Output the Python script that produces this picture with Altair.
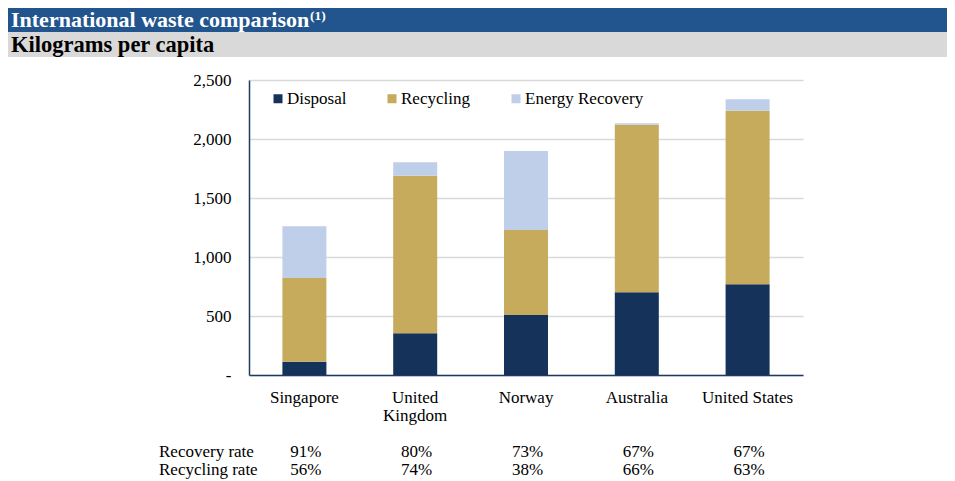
import altair as alt
import pandas as pd

countries = ["Singapore", "United Kingdom", "Norway", "Australia", "United States"]
disposal = [113, 353, 508, 701, 769]
recycling = [709, 1336, 721, 1420, 1471]
energy = [438, 113, 669, 12, 96]
series = ["Disposal", "Recycling", "Energy Recovery"]
colors = ["#14325A", "#C5AB5B", "#BFCFEA"]
recovery_rate = ["91%", "80%", "73%", "67%", "67%"]
recycling_rate = ["56%", "74%", "38%", "66%", "63%"]
row_labels = ["Recovery rate", "Recycling rate"]
y_ticks = [0, 500, 1000, 1500, 2000, 2500]
title = "International waste comparison"
title_note = "(1)"
subtitle = "Kilograms per capita"

FONT = "Liberation Serif"
NAVY = "#1F3864"
FS = 17

rows = []
for i, c in enumerate(countries):
    for j, (s, vals) in enumerate(zip(series, [disposal, recycling, energy])):
        rows.append({"country": c, "series": s, "value": vals[i], "order": j})
df = pd.DataFrame(rows)

tbl = pd.DataFrame({"country": countries, "recovery": recovery_rate, "recycling": recycling_rate})
one = pd.DataFrame({"k": [0]})

xenc = alt.X("country:N", sort=countries, title=None,
             scale=alt.Scale(paddingInner=0.6, paddingOuter=0.3),
             axis=alt.Axis(labelAngle=0, ticks=False, labelPadding=27, labelBaseline="alphabetic",
                           labelFont=FONT, labelFontSize=FS, labelColor="black",
                           domainColor=NAVY, domainWidth=1.5, labelLineHeight=18,
                           labelExpr="datum.label == 'United Kingdom' ? ['United', 'Kingdom'] : datum.label"))

bars = alt.Chart(df).mark_bar(size=44).encode(
    x=xenc,
    y=alt.Y("sum(value):Q", title=None,
            scale=alt.Scale(domain=[0, 2500], nice=False),
            axis=alt.Axis(values=y_ticks, ticks=False, labelPadding=18, labelFont=FONT,
                          labelFontSize=FS, labelColor="black", domainColor=NAVY, domainWidth=1.5,
                          gridColor="#D9D9D9", gridWidth=1.5,
                          labelExpr="datum.value == 0 ? '-' : format(datum.value, ',')")),
    color=alt.Color("series:N", scale=alt.Scale(domain=series, range=colors),
                    legend=alt.Legend(title=None, orient="none", legendX=20.5, legendY=10,
                                      direction="horizontal", symbolType="square", symbolSize=81,
                                      symbolStrokeWidth=0, labelFont=FONT, labelFontSize=FS,
                                      labelColor="black", columnPadding=37, labelOffset=0.5,
                                      padding=0)),
    order=alt.Order("order:Q"),
)

header_blue = alt.Chart(one).mark_rect(color="#22558E").encode(
    x=alt.value(-241), x2=alt.value(698), y=alt.value(-74), y2=alt.value(-48))
header_grey = alt.Chart(one).mark_rect(color="#D9D9D9").encode(
    x=alt.value(-241), x2=alt.value(698), y=alt.value(-48), y2=alt.value(-23))
title_txt = alt.Chart(one).mark_text(align="left", baseline="alphabetic", font=FONT,
                                     fontSize=22, fontWeight="bold", color="white").encode(
    x=alt.value(-238), y=alt.value(-53.5), text=alt.value(title))
note_txt = alt.Chart(one).mark_text(align="left", baseline="alphabetic", font=FONT,
                                    fontSize=13.5, fontWeight="bold", color="white").encode(
    x=alt.value(61), y=alt.value(-60), text=alt.value(title_note))
sub_txt = alt.Chart(one).mark_text(align="left", baseline="alphabetic", font=FONT,
                                   fontSize=22.5, fontWeight="bold", color="black").encode(
    x=alt.value(-238), y=alt.value(-28), text=alt.value(subtitle))

rec_txt = alt.Chart(tbl).mark_text(font=FONT, fontSize=FS, color="black", baseline="alphabetic", dx=1.5).encode(
    x=alt.X("country:N", sort=countries), y=alt.value(377), text="recovery:N")
cyc_txt = alt.Chart(tbl).mark_text(font=FONT, fontSize=FS, color="black", baseline="alphabetic", dx=1.5).encode(
    x=alt.X("country:N", sort=countries), y=alt.value(395), text="recycling:N")
row1 = alt.Chart(one).mark_text(align="left", font=FONT, fontSize=FS, color="black", baseline="alphabetic").encode(
    x=alt.value(-90), y=alt.value(377), text=alt.value(row_labels[0]))
row2 = alt.Chart(one).mark_text(align="left", font=FONT, fontSize=FS, color="black", baseline="alphabetic").encode(
    x=alt.value(-90), y=alt.value(395), text=alt.value(row_labels[1]))

chart = alt.layer(header_blue, header_grey, title_txt, note_txt, sub_txt,
                  bars, rec_txt, cyc_txt, row1, row2).properties(
    width=554, height=295,
    padding={"left": 241, "top": 72, "right": 144, "bottom": 106},
    autosize=alt.AutoSizeParams(type="none"),
    background="white",
).configure_view(stroke=None)

chart.save("out.html", embed_options={"renderer": "svg", "actions": False})
